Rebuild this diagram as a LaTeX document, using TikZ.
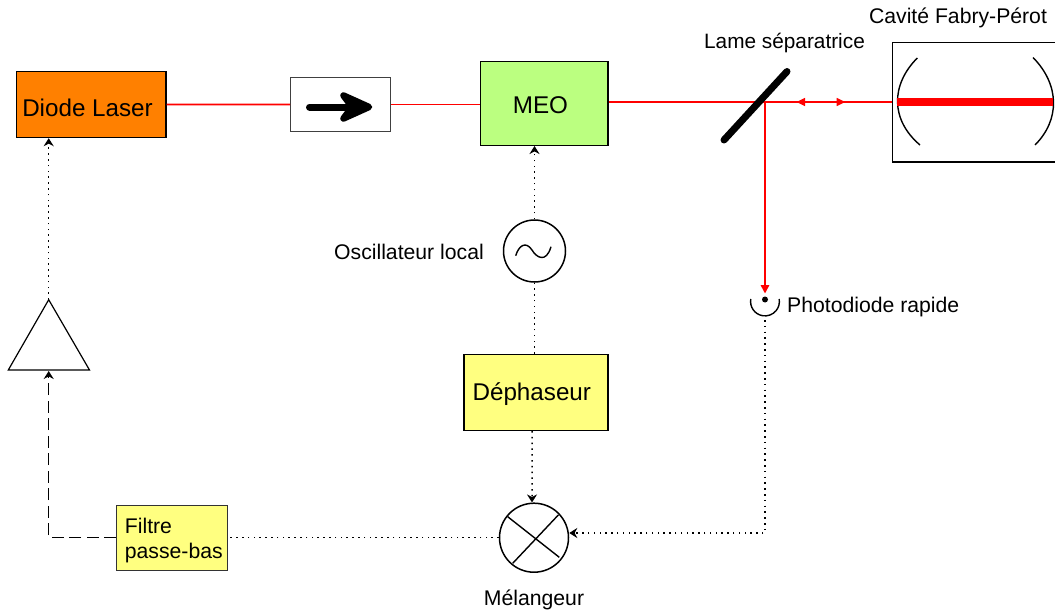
\documentclass[tikz,border=0pt]{standalone}
\usepackage{fontspec}
\setmainfont{Liberation Sans}
\usetikzlibrary{arrows.meta,calc}
\definecolor{orangebox}{HTML}{FF8000}
\definecolor{greenbox}{HTML}{BBFF80}
\definecolor{yellowbox}{HTML}{FFFF80}
\definecolor{beam}{HTML}{FF0000}
\tikzset{
  x=1pt,y=-1pt,
  boxnode/.style={draw=black,line width=1.4pt,inner sep=0pt,anchor=north west},
  bigtext/.style={font=\fontsize{24.2pt}{26pt}\selectfont,inner sep=0pt},
  smalltext/.style={font=\fontsize{21.2pt}{25pt}\selectfont,inner sep=0pt},
  beamline/.style={draw=beam,line width=1.6pt},
  beamtip/.style={-{Triangle[length=8.5pt,width=8.5pt]}},
  dotline/.style={draw=black,line width=1.5pt,dash pattern=on 1.5pt off 4.3pt},
  dashline/.style={draw=black,line width=1.3pt,dash pattern=on 12pt off 5.5pt},
  sigtip/.style={-{Stealth[length=8pt,width=10pt]}},
  roundnode/.style={circle,draw=black,line width=1.5pt,inner sep=0pt,fill=white},
}
\begin{document}
\begin{tikzpicture}
\useasboundingbox (0,0) rectangle (1055,613);
% boxes
\node[boxnode,fill=orangebox,minimum width=149.5pt,minimum height=66pt] (diode) at (15.6,70.8) {};
\node[bigtext,anchor=center] (diodetext) at (87.5,108) {Diode Laser};
\node[boxnode,fill=white,draw=black!75,line width=1.3pt,minimum width=100pt,minimum height=54pt] (iso) at (290,76.8) {};
\node[boxnode,fill=greenbox,minimum width=127.5pt,minimum height=84pt] (meo) at (479.6,60.6) {};
\node[bigtext,anchor=center] (meotext) at (540.5,105) {MEO};
\node[boxnode,fill=yellowbox,minimum width=144pt,minimum height=76pt] (deph) at (463.4,353.6) {};
\node[bigtext,anchor=center] (dephtext) at (531.8,394) {Déphaseur};
\node[boxnode,fill=yellowbox,draw=black!80,line width=1.2pt,minimum width=111pt,minimum height=65pt] (filtre) at (116.2,505.2) {};
\node[smalltext,anchor=west,align=left] (filtretext) at (124.7,540.5) {Filtre\\passe-bas};
\node[roundnode,minimum size=62pt] (osc) at (534.5,251) {};
\node[roundnode,minimum size=69pt] (mix) at (534,537.7) {};
\coordinate (triapex) at (48.7,299.7);
\coordinate (trileft) at (8.3,370);
\coordinate (triright) at (89.5,370);
\coordinate (trimid) at (48.7,370);
\coordinate (pd) at (765,299.5);
% cavity
\node[boxnode,minimum width=175pt,minimum height=119.5pt] (cav) at (892,41.8) {};
\draw[line width=1.4pt] (917.3,58) .. controls (890.5,85) and (890.5,120) .. (920,145);
\draw[line width=1.4pt] (1033,57.5) .. controls (1060,85) and (1060,120) .. (1035,145);
% beams
\coordinate (sep) at (765,102);
\draw[beamline] (diode.east) -- (iso.west);
\draw[beamline] (iso.east) -- (meo.west |- iso.east);
\draw[beamline] (meo.east |- sep) -- (cav.west |- sep);
\draw[beamline,beamtip] (sep) -- ($(pd)+(0,-6)$);
\coordinate (leftarrow) at (796.7,102);
\coordinate (rightarrow) at (845,102);
\fill[beam] (leftarrow) -- ++(8.3,-4.2) -- ++(0,8.4) -- cycle;
\fill[beam] (rightarrow) -- ++(-8.3,-4.2) -- ++(0,8.4) -- cycle;
\draw[beam,line width=7.3pt] (897.4,102) -- (1053,102);
% separator
\draw[black,line width=7pt,line cap=round] (787,71.5) -- (724,140);
% isolator arrow
\draw[black,line width=7pt,line cap=round] (309.5,107) -- (362,107);
\fill[black,draw=black,line width=6.5pt,line join=round] (343.5,95.5) -- (369,107) -- (343.5,118.5) -- (352,107) -- cycle;
% triangle
\draw[line width=1.2pt,line join=miter] (triapex) -- (triright) -- (trileft) -- cycle;
% oscillator sine
\draw[line width=1.4pt] (515.7,255.7) .. controls (519,245) and (526,241) .. (532,250) .. controls (536,257) and (546,264) .. (551,246.7);
% mixer cross
\draw[line width=1.4pt] (507.7,516.7) -- (559.3,557.3);
\draw[line width=1.4pt] (558.3,515) -- (512.7,563.3);
% photodiode
\fill[black] (pd) circle (3pt);
\draw[line width=1.4pt] (750.8,299) arc[start angle=190,end angle=-10,radius=14.4];
\coordinate (pdbottom) at (765,320);
% signals
\draw[dotline,sigtip] (triapex) -- (diode.south -| triapex);
\draw[dotline,sigtip] (osc.north) -- (meo.south -| osc.north);
\draw[dotline] (deph.north -| osc.south) -- (osc.south);
\draw[dotline,sigtip] ($(deph.south)+(-4,0)$) -- ($(mix.north)+(-2,0)$);
\coordinate (pdcorner) at (765,533);
\draw[dotline,sigtip] (pdbottom) -- (pdcorner) -- ($(mix.east)+(0,-4.7)$);
\draw[dotline] (mix.west) -- (filtre.east |- mix.west);
\draw[dashline,sigtip] (filtre.west |- mix.west) -- (trimid |- mix.west) -- ($(trimid)+(0,1)$);
% labels
\node[smalltext,font=\fontsize{20.8pt}{25pt}\selectfont] (lamelabel) at (784.5,43) {Lame séparatrice};
\node[smalltext] (cavlabel) at (958,17.5) {Cavité Fabry-Pérot};
\node[smalltext,anchor=east] (osclabel) at (484,251.5) {Oscillateur local};
\node[smalltext,anchor=west] (pdlabel) at (787,307) {Photodiode rapide};
\node[smalltext] (mixlabel) at (534,599.5) {Mélangeur};
\end{tikzpicture}
\end{document}
